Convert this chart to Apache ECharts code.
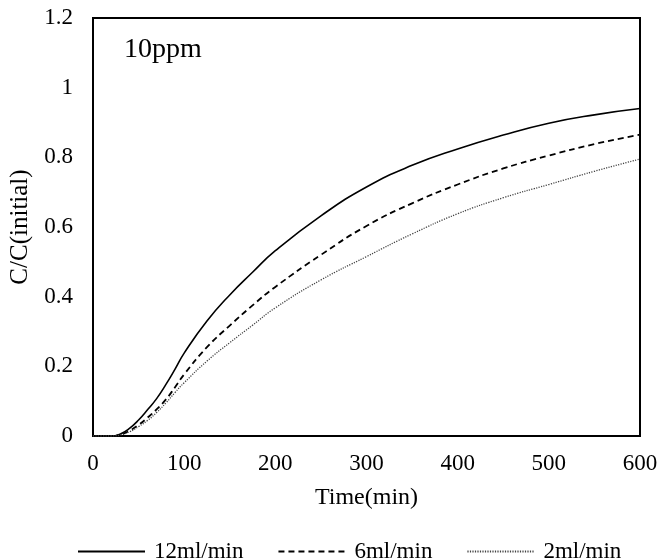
<!DOCTYPE html>
<html>
<head>
<meta charset="utf-8">
<script src="https://cdn.jsdelivr.net/npm/echarts@6/dist/echarts.min.js"></script>
<style>html,body{margin:0;padding:0;background:#fff;}#c{width:672px;height:560px;}</style>
</head>
<body>
<div id="c"></div>
<script>
var times = [0, 10, 20, 30, 40, 50, 60, 70, 80, 90, 100, 125, 150, 175, 200, 250, 300, 350, 400, 450, 500, 550, 600];
var flow12 = [0, 0, 0, 0.006, 0.022, 0.046, 0.076, 0.108, 0.148, 0.192, 0.238, 0.33, 0.405, 0.47, 0.532, 0.632, 0.715, 0.777, 0.824, 0.864, 0.898, 0.922, 0.94];
var flow6 = [0, 0, 0, 0.004, 0.015, 0.032, 0.053, 0.077, 0.105, 0.14, 0.177, 0.255, 0.317, 0.375, 0.428, 0.52, 0.603, 0.668, 0.722, 0.768, 0.805, 0.838, 0.865];
var flow2 = [0, 0, 0, 0.003, 0.012, 0.027, 0.045, 0.068, 0.095, 0.125, 0.153, 0.215, 0.268, 0.318, 0.368, 0.448, 0.515, 0.58, 0.638, 0.684, 0.722, 0.76, 0.795];
var seriesNames = ['12ml/min', '6ml/min', '2ml/min'];
var panelLabel = '10ppm';
var xName = 'Time(min)';
var yName = 'C/C(initial)';

function pairs(vals) { return times.map(function (t, i) { return [t, vals[i]]; }); }

var font = 'Liberation Serif';
var chart = echarts.init(document.getElementById('c'), null, { renderer: 'canvas' });
chart.setOption({
  animation: false,
  backgroundColor: '#fff',
  grid: { left: 92, right: 32, top: 18, bottom: 124, show: true, borderColor: '#000', borderWidth: 2, backgroundColor: 'transparent' },
  xAxis: {
    type: 'value', min: 0, max: 600, interval: 100,
    name: xName, nameLocation: 'middle', nameGap: 50,
    nameTextStyle: { fontFamily: font, fontSize: 24, color: '#000' },
    axisLine: { show: false }, axisTick: { show: false }, splitLine: { show: false },
    axisLabel: { fontFamily: font, fontSize: 23, color: '#000', margin: 16 }
  },
  yAxis: {
    type: 'value', min: 0, max: 1.2, interval: 0.2,
    name: yName, nameLocation: 'middle', nameGap: 60, nameRotate: 90,
    nameTextStyle: { fontFamily: font, fontSize: 25, color: '#000' },
    axisLine: { show: false }, axisTick: { show: false }, splitLine: { show: false },
    axisLabel: { fontFamily: font, fontSize: 23, color: '#000', margin: 20,
      formatter: function (v) { return String(+v.toFixed(1)); } }
  },
  legend: {
    left: 72, top: 535, itemWidth: 67, itemHeight: 10, itemGap: 34,
    itemStyle: { color: 'rgba(0,0,0,0)', borderWidth: 0, opacity: 0 },
    textStyle: { fontFamily: font, fontSize: 23, color: '#000', padding: [0, 0, 0, 4] },
    data: seriesNames
  },
  graphic: [{
    type: 'text', left: 124, top: 36,
    style: { text: panelLabel, font: '28px "Liberation Serif"', fill: '#000' }
  }],
  series: [
    { name: seriesNames[0], type: 'line', data: pairs(flow12), symbol: 'none', smooth: 0.5,
      lineStyle: { color: '#000', width: 1.6, type: 'solid' }, itemStyle: { color: '#000' } },
    { name: seriesNames[1], type: 'line', data: pairs(flow6), symbol: 'none', smooth: 0.5,
      lineStyle: { color: '#000', width: 1.8, type: [6, 4] }, itemStyle: { color: '#000' } },
    { name: seriesNames[2], type: 'line', data: pairs(flow2), symbol: 'none', smooth: 0.5,
      lineStyle: { color: '#444', width: 1.3, type: [1.2, 1.3] }, itemStyle: { color: '#444' } }
  ]
});
</script>
</body>
</html>
